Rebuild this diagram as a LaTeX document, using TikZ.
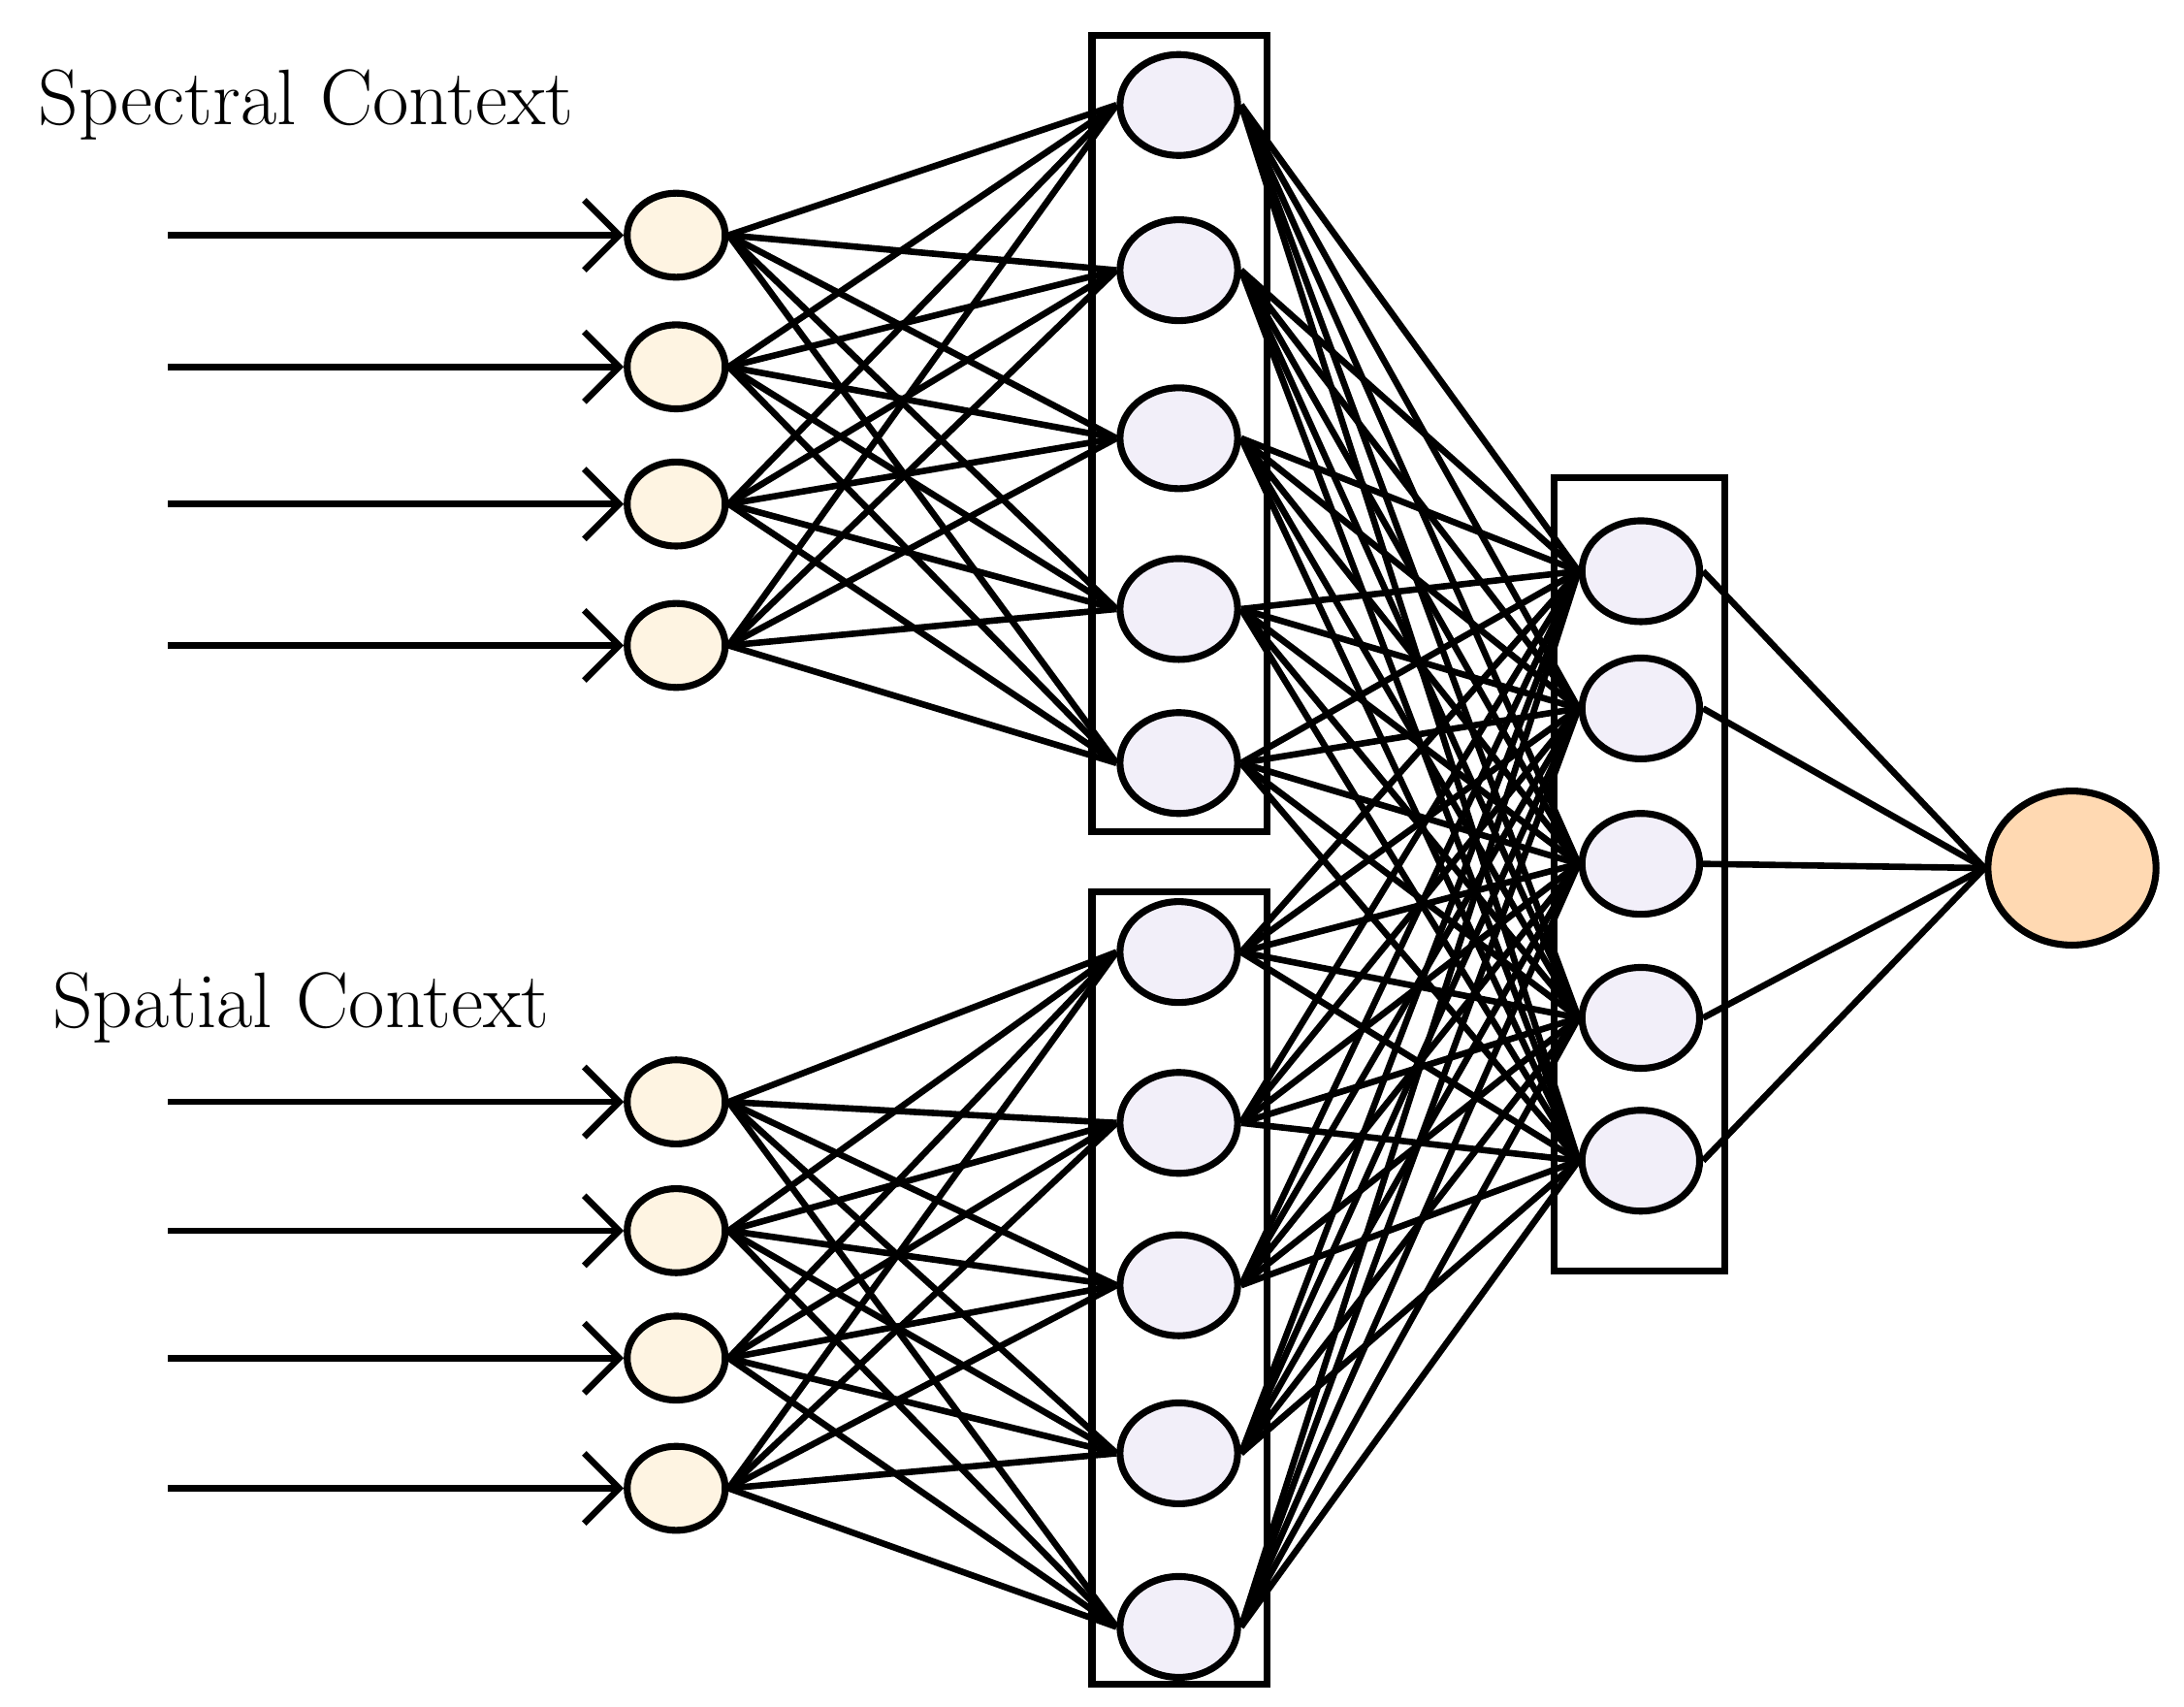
\documentclass[tikz,border=0pt]{standalone}
\usepackage{tikz}
\usetikzlibrary{positioning,arrows.meta,shapes.geometric}

\begin{document}
\begin{tikzpicture}[x=0.01cm,y=-0.01cm]
\tikzstyle{inp}=[ellipse, minimum width=0.7cm, minimum height=0.6cm, line width=1.4pt, draw=black, fill=yellow!20!orange!10!white]
\tikzstyle{hid}=[ellipse, minimum width=0.84cm, minimum height=0.72cm, line width=1.4pt, draw=black, fill=cyan!8!blue!5!white]
\tikzstyle{outp}=[ellipse, minimum width=1.2cm, minimum height=1.1cm, line width=1.4pt, draw=black, fill=orange!30!white]
\tikzstyle{connect}=[line width=1.3pt]
\tikzstyle{feed}=[line width=1.3pt, -{Straight Barb[length=2.5mm,width=5mm]}]
\tikzstyle{box}=[rectangle, draw=black, line width=1.4pt]
\tikzstyle{lbl}=[anchor=west, font=\fontsize{16}{19}\selectfont]

% 1. Grid
%%%%%%%%%
\useasboundingbox (0,0) rectangle (1560,1219);

% 2. Nodes
%%%%%%%%%%
\draw[box] (780,25) rectangle (905,594);
\draw[box] (780,637) rectangle (905,1203);
\draw[box] (1110,341) rectangle (1232,908);

\foreach \i/\y in {1/168,2/262,3/360,4/461}
  \node[inp] (a\i) at (483,\y) {};
\foreach \i/\y in {1/787,2/879,3/970,4/1063}
  \node[inp] (b\i) at (483,\y) {};
\foreach \i/\y in {1/75,2/193,3/313,4/435,5/545}
  \node[hid] (ha\i) at (842,\y) {};
\foreach \i/\y in {1/680,2/802,3/918,4/1038,5/1162}
  \node[hid] (hb\i) at (842,\y) {};
\foreach \i/\y in {1/408,2/506,3/617,4/727,5/829}
  \node[hid] (c\i) at (1172,\y) {};
\node[outp] (out) at (1480,620) {};

\node[lbl] (spec) at (15,75) {Spectral Context};
\node[lbl] (spat) at (25,720) {Spatial Context};

% 3. Arrows
%%%%%%%%%%%
\foreach \i/\y in {1/168,2/262,3/360,4/461}
  \coordinate (sa\i) at (120,\y);
\foreach \i/\y in {1/787,2/879,3/970,4/1063}
  \coordinate (sb\i) at (120,\y);
\foreach \i in {1,...,4} {
  \draw[feed] (sa\i) -- (a\i.west);
  \draw[feed] (sb\i) -- (b\i.west);
}
\foreach \i in {1,...,4}
  \foreach \j in {1,...,5} {
    \draw[connect] (a\i.east) -- (ha\j.west);
    \draw[connect] (b\i.east) -- (hb\j.west);
  }
\foreach \i in {1,...,5}
  \foreach \j in {1,...,5} {
    \draw[connect] (ha\i.east) -- (c\j.west);
    \draw[connect] (hb\i.east) -- (c\j.west);
  }
\foreach \j in {1,...,5}
  \draw[connect] (c\j.east) -- (out.west);

\end{tikzpicture}
\end{document}
